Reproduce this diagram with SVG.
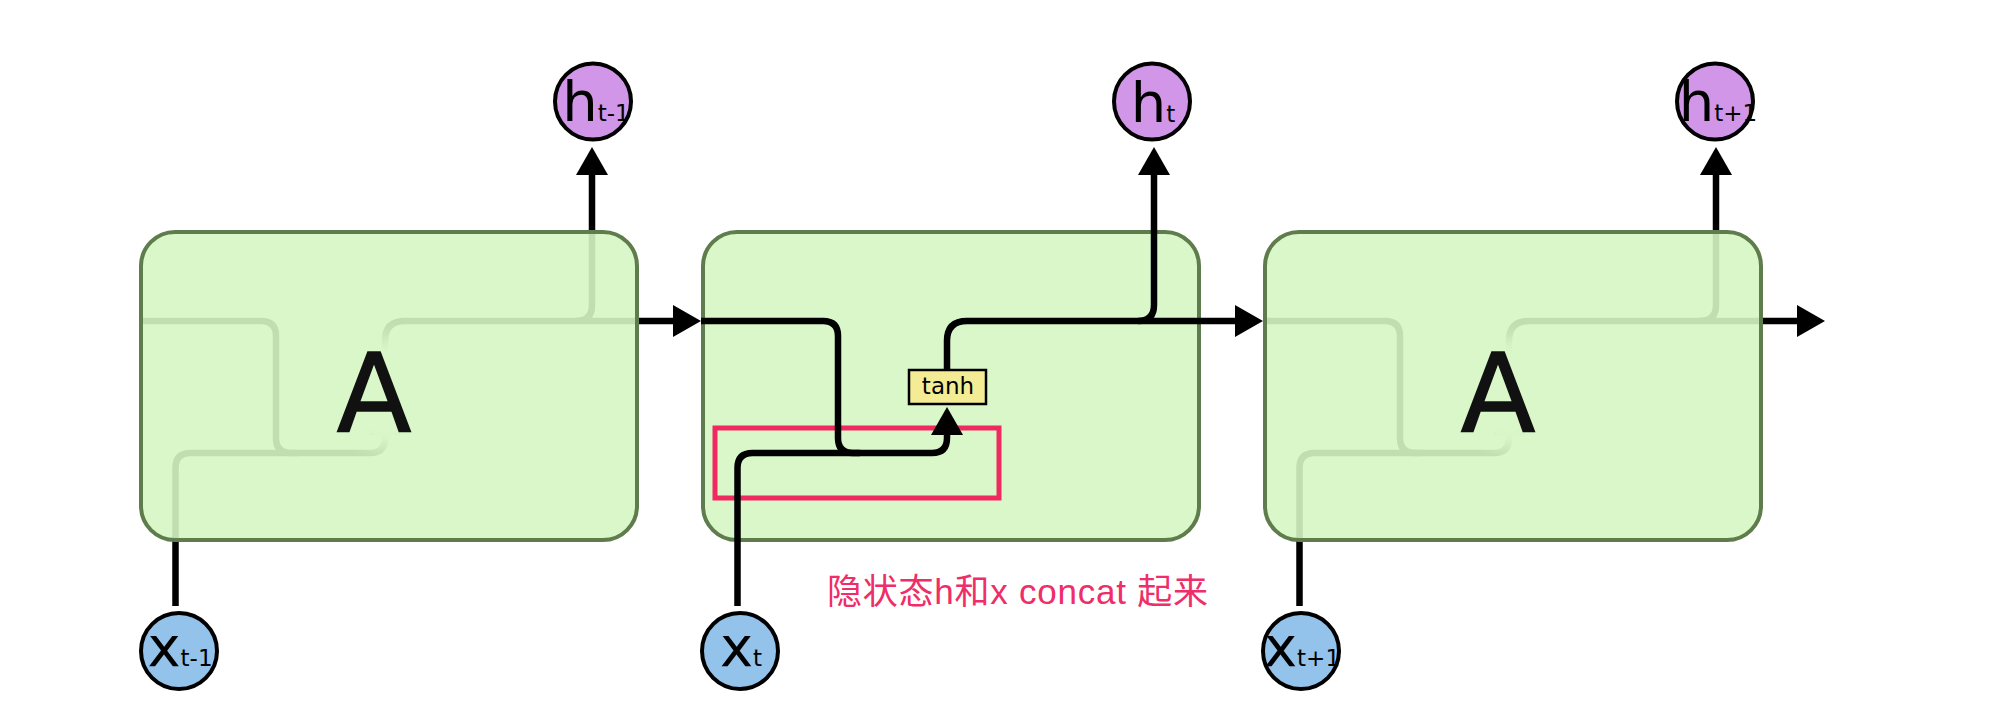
<svg xmlns="http://www.w3.org/2000/svg" xmlns:xlink="http://www.w3.org/1999/xlink" width="2016" height="714" viewBox="0 0 2016 714">
<style>
.ln{fill:none;stroke:#000;stroke-width:6.5;stroke-linejoin:round}
.box{fill:#d5f6c2;fill-opacity:0.9;stroke:#5f7d4c;stroke-width:4}
.big{font-family:"DejaVu Sans",sans-serif;font-size:109px;fill:#111;stroke:#111;stroke-width:1.5;text-anchor:middle}
.hc{fill:#d196e8;stroke:#000;stroke-width:4}
.xc{fill:#93c2ea;stroke:#000;stroke-width:4}
.lbl{font-family:"DejaVu Sans",sans-serif;font-size:56px;fill:#000;text-anchor:middle}
.sub{font-size:23px}
.note{font-family:"Liberation Sans","Noto Sans CJK SC",sans-serif;font-size:35px;fill:#ef2d68}
</style>
<defs>
<marker id="ah" markerUnits="userSpaceOnUse" markerWidth="28" markerHeight="32" viewBox="0 0 28 32" refX="1" refY="16" orient="auto">
<path d="M0,0 L28,16 L0,32 z" fill="#000"/>
</marker>
<filter id="soft" x="-50%" y="-50%" width="200%" height="200%"><feGaussianBlur stdDeviation="9"/></filter>
<g id="cellPaths">
<path class="ln" d="M701,321 H823 Q838,321 838,336 V438 Q838,453 853,453 H932 Q947,453 947,438 V434" marker-end="url(#ah)"/>
<path class="ln" d="M737.5,606 V468 Q737.5,453 752.5,453 H860"/>
<path class="ln" d="M947,369 V341 Q947,321 967,321 H1236" marker-end="url(#ah)"/>
<path class="ln" d="M1138,321 Q1154,321 1154,305 V174" marker-end="url(#ah)"/>
</g>
</defs>
<rect width="2016" height="714" fill="#fff"/>
<g id="connectors-faded">
<use xlink:href="#cellPaths" href="#cellPaths" transform="translate(-562,0)"/>
<use xlink:href="#cellPaths" href="#cellPaths" transform="translate(562,0)"/>
<ellipse cx="385" cy="393" rx="42" ry="56" fill="#fff" filter="url(#soft)"/>
<ellipse cx="1509" cy="393" rx="42" ry="56" fill="#fff" filter="url(#soft)"/>
</g>
<g id="A1">
<rect class="box" x="141" y="232" width="496" height="308" rx="34"/>
<text class="big" x="374" y="431">A</text>
</g>
<g id="A2">
<rect class="box" x="703" y="232" width="496" height="308" rx="34"/>
</g>
<g id="A3">
<rect class="box" x="1265" y="232" width="496" height="308" rx="34"/>
<text class="big" x="1498" y="431">A</text>
</g>
<g id="highlight">
<rect x="715" y="428" width="284" height="70" fill="none" stroke="#f02a60" stroke-width="5"/>
</g>
<g id="connectors">
<use xlink:href="#cellPaths" href="#cellPaths"/>
</g>
<g id="tanh">
<rect x="909" y="370" width="77" height="34" fill="#f3ec94" stroke="#000" stroke-width="2.5"/>
<text x="948" y="394" font-family="DejaVu Sans, sans-serif" font-size="23" text-anchor="middle" fill="#000">tanh</text>
</g>
<g id="h_tm1">
<circle class="hc" cx="593" cy="101.5" r="38"/>
<text class="lbl" x="596" y="121">h<tspan class="sub">t-1</tspan></text>
</g>
<g id="h_t">
<circle class="hc" cx="1152" cy="101.5" r="38"/>
<text class="lbl" x="1153" y="121.5">h<tspan class="sub">t</tspan></text>
</g>
<g id="h_tp1">
<circle class="hc" cx="1715" cy="101.5" r="38"/>
<text class="lbl" x="1718" y="121">h<tspan class="sub">t+1</tspan></text>
</g>
<g id="x_tm1">
<circle class="xc" cx="179" cy="651" r="38"/>
<text class="lbl" x="180" y="665.5">x<tspan class="sub">t-1</tspan></text>
</g>
<g id="x_t">
<circle class="xc" cx="740" cy="651" r="38"/>
<text class="lbl" x="741" y="666">x<tspan class="sub">t</tspan></text>
</g>
<g id="x_tp1">
<circle class="xc" cx="1301" cy="651" r="38"/>
<text class="lbl" x="1302" y="665.5">x<tspan class="sub">t+1</tspan></text>
</g>
<g id="note">
<text class="note" x="827" y="604" textLength="381" lengthAdjust="spacing">隐状态h和x concat 起来</text>
</g>
</svg>
